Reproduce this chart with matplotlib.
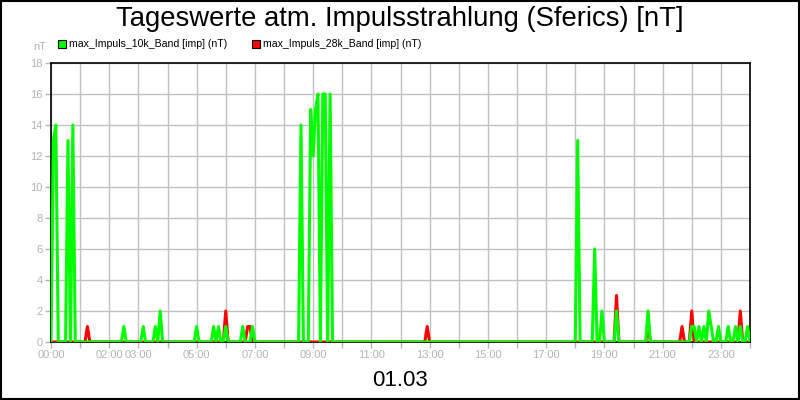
import numpy as np
import matplotlib
matplotlib.use("Agg")
import matplotlib.pyplot as plt
from matplotlib.patches import Rectangle

# police etroite facon Arial Narrow
plt.rcParams['font.family'] = ['Liberation Sans Narrow', 'Liberation Sans', 'DejaVu Sans']

# ---------------------------------------------------------------
# donnees : valeurs (pas de 5 minutes)
# ---------------------------------------------------------------
titre = "Tageswerte atm. Impulsstrahlung (Sferics) [nT]"
nom_10k = "max_Impuls_10k_Band [imp] (nT)"
nom_28k = "max_Impuls_28k_Band [imp] (nT)"
date_label = "01.03"

heures_ticks = list(range(0, 25))
labels_ticks = ["00:00", "", "02:00", "03:00", "", "05:00", "", "07:00", "", "09:00",
                "", "11:00", "", "13:00", "", "15:00", "", "17:00", "", "19:00",
                "", "21:00", "", "23:00", ""]

# bande 10k (vert)
t_10k = ["00:05", "00:10", "00:35", "00:45", "02:30", "03:10", "03:35", "03:45",
         "05:00", "05:35", "05:45", "06:00", "06:35", "06:55",
         "08:35", "08:55", "09:00", "09:05", "09:10", "09:20", "09:25", "09:35",
         "18:05", "18:40", "18:55", "19:25", "20:30",
         "22:00", "22:05", "22:15", "22:25", "22:35", "22:40",
         "22:55", "23:15", "23:30", "23:40", "23:55"]
v_10k = [13, 14, 13, 14, 1, 1, 1, 2,
         1, 1, 1, 1, 1, 1,
         14, 15, 12, 15, 16, 16, 16, 16,
         13, 6, 2, 2, 2,
         1, 1, 1, 1, 2, 1,
         1, 1, 1, 1, 1]

# bande 28k (rouge)
t_28k = ["01:15", "06:00", "06:45", "06:50", "12:55", "19:25", "20:30",
         "21:40", "22:00", "23:40"]
v_28k = [1, 2, 1, 1, 1, 3, 1, 1, 2, 2]

# ---------------------------------------------------------------
# construction des series sur la grille de 5 minutes
# ---------------------------------------------------------------
def en_heures(txt):
    h, m = txt.split(":")
    return int(h) + int(m) / 60.0

temps = np.arange(0, 24 * 60 + 1, 5) / 60.0

def serie(liste_t, liste_v):
    y = np.zeros(len(temps))
    for t, v in zip(liste_t, liste_v):
        i = int(round(en_heures(t) * 12))
        y[i] = v
    return y

y_10k = serie(t_10k, v_10k)
y_28k = serie(t_28k, v_28k)

# ---------------------------------------------------------------
# trace
# ---------------------------------------------------------------
fig = plt.figure(figsize=(8, 4), dpi=100)
fig.patch.set_facecolor("white")
ax = fig.add_axes([51 / 800, 1 - 342 / 400, 699 / 800, 279 / 400])

gris = "#b4b4b4"

ax.plot(temps, y_28k, color="#ff0000", lw=2.2, zorder=3)
ax.plot(temps, y_10k, color="#00ff00", lw=2.2, zorder=4)

ax.set_xlim(0, 24)
ax.set_ylim(0, 18)
ax.set_xticks(heures_ticks)
ax.set_xticklabels(labels_ticks)
ax.set_yticks(range(0, 19, 2))
ax.grid(True, color="#c0c0c0", lw=1.0, zorder=0)
ax.set_axisbelow(True)
ax.tick_params(axis="both", colors=gris, labelsize=8, length=4, width=1, pad=2)
for s in ax.spines.values():
    s.set_color("black")
    s.set_linewidth(1.2)

# titre, unite, date
fig.text(0.5, 0.953, titre, ha="center", va="center", fontsize=19.8, color="black")
fig.text(46 / 800, 1 - 47 / 400, "nT", ha="right", va="center", fontsize=8, color=gris)
fig.text(0.5, 1 - 380 / 400, date_label, ha="center", va="center", fontsize=16, color="black")

# legende faite a la main
fig.add_artist(Rectangle((58 / 800, 1 - 48 / 400), 8 / 800, 8 / 400,
                         transform=fig.transFigure, facecolor="#00ff00", edgecolor="black", lw=0.8))
fig.text(69 / 800, 1 - 44 / 400, nom_10k, ha="left", va="center", fontsize=7.6, color="black")
fig.add_artist(Rectangle((252 / 800, 1 - 48 / 400), 8 / 800, 8 / 400,
                         transform=fig.transFigure, facecolor="#ff0000", edgecolor="black", lw=0.8))
fig.text(263 / 800, 1 - 44 / 400, nom_28k, ha="left", va="center", fontsize=7.6, color="black")

# cadre noir autour de l'image
fig.add_artist(Rectangle((0.001, 0.002), 0.998, 0.996, transform=fig.transFigure,
                         fill=False, edgecolor="black", lw=1.5))

fig.savefig("out.png", dpi=100)
